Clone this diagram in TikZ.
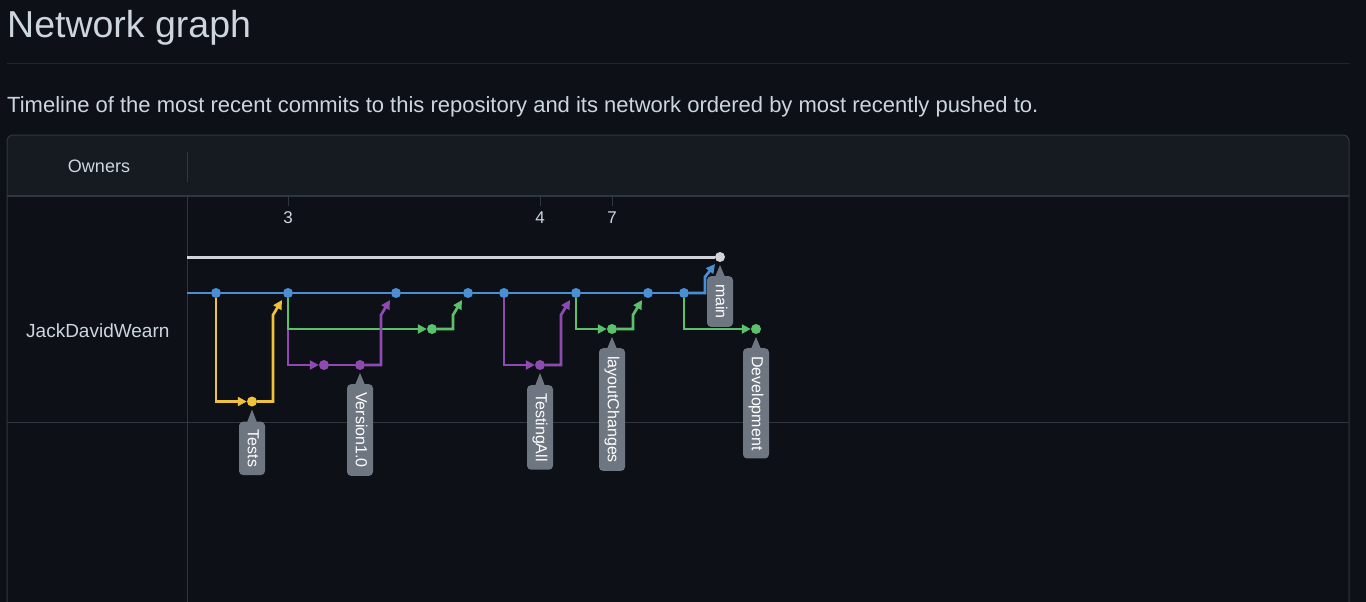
\documentclass[tikz,border=0pt]{standalone}
\usepackage{fontspec}
\setmainfont{Liberation Sans}
\usetikzlibrary{arrows.meta}
\definecolor{pagebg}{HTML}{0D1117}
\definecolor{headbg}{HTML}{161B22}
\definecolor{frame}{HTML}{30363D}
\definecolor{hrule}{HTML}{21262D}
\definecolor{fg}{HTML}{CDD5DD}
\definecolor{tagfill}{HTML}{6E7681}
\definecolor{mainblue}{HTML}{4A8FD4}
\definecolor{testyellow}{HTML}{F0C23A}
\definecolor{devgreen}{HTML}{5BC16A}
\definecolor{verpurple}{HTML}{8E4AB0}
\definecolor{headgrey}{HTML}{D0D3D8}

\begin{document}
\begin{tikzpicture}[x=1pt,y=-1pt]
        \tikzset{commit/.style={circle,fill=#1,inner sep=0pt,minimum size=10pt},
            branch/.style={draw=#1,line width=2.7pt,-{Triangle[length=9pt,width=9pt]}},
            lane/.style={draw=#1,line width=2.7pt},
            tag/.style={fill=tagfill,rounded corners=4pt,rotate=-90,anchor=west,text=white,
                font=\fontsize{16}{16}\selectfont,inner xsep=8pt,inner ysep=0pt,
                minimum height=26pt,text height=11.5pt,text depth=3pt},
            label/.style={text=fg,inner sep=0pt,font=\fontsize{#1}{#1}\selectfont}}
        \useasboundingbox (0,0) rectangle (1366,602);
        \fill[pagebg] (0,0) rectangle (1366,602);
        % heading
        \node[label=37.5,anchor=base west] (title) at (7,38) {Network graph};
        \draw[hrule,line width=1pt] (7,64) -- (1350,64);
        \node[label=22,anchor=base west] (intro) at (7,112)
            {Timeline of the most recent commits to this repository and its network ordered by most recently pushed to.};
        % table frame
        \fill[headbg,rounded corners=6pt] (7,135) rectangle (1349,220);
        \fill[pagebg] (7,196) rectangle (1349,220);
        \draw[frame,line width=1pt,rounded corners=6pt] (7,135) rectangle (1349,700);
        \draw[frame,line width=1.6pt] (7,196) -- (1349,196);
        \draw[frame,line width=1pt] (187,152) -- (187,182);
        \draw[frame,line width=1pt] (187,196) -- (187,700);
        \draw[frame,line width=1pt] (7,422) -- (1349,422);
        \node[label=18,anchor=base] (owners) at (99,172) {Owners};
        \node[label=19,anchor=base west] (owner) at (26,337) {JackDavidWearn};
        % dates
        \foreach \x/\d in {288/3,540/4,612/7} {
            \draw[frame,line width=1pt] (\x,197) -- (\x,206);
            \node[label=17,anchor=base] (date\d) at (\x,223) {\d};
        }
        % commits
        \coordinate (mstart) at (187,293);
        \coordinate (hstart) at (187,257);
        \foreach \n/\x in {b1/216,b2/288,b3/396,b4/468,b5/504,b6/576,b7/648,b8/684}
            \node[commit=mainblue] (\n) at (\x,293) {};
        \node[commit=headgrey] (head) at (720,257) {};
        \node[commit=testyellow] (t1) at (252,401.5) {};
        \node[commit=verpurple] (p1) at (324,365) {};
        \node[commit=verpurple] (p2) at (360,365) {};
        \node[commit=verpurple] (p3) at (540,365) {};
        \node[commit=devgreen] (g1) at (432,329) {};
        \node[commit=devgreen] (g2) at (612,329) {};
        \node[commit=devgreen] (g3) at (756,329) {};
        % lanes
        \draw[lane=headgrey,line width=3pt] (hstart) -- (head);
        \draw[lane=mainblue] (mstart) -- (b1) -- (b2) -- (b3) -- (b4) -- (b5) -- (b6) -- (b7) -- (b8);
        \draw[branch=testyellow] (b1) |- (t1);
        \draw[branch=verpurple] (b2) |- (p1);
        \draw[lane=verpurple] (p1) -- (p2);
        \draw[branch=devgreen] (b2) |- (g1);
        \draw[branch=verpurple] (b5) |- (p3);
        \draw[branch=devgreen] (b6) |- (g2);
        \draw[branch=devgreen] (b8) |- (g3);
        % merges
        \foreach \c/\m/\col in {t1/b2/testyellow,p2/b3/verpurple,g1/b4/devgreen,p3/b6/verpurple,g2/b7/devgreen}
            \draw[branch=\col] (\c) -| ([xshift=-15pt,yshift=-22pt]\m.center) -- ([xshift=-6pt,yshift=-7pt]\m.center);
        \draw[branch=mainblue] (b8) -| ([xshift=-15pt,yshift=-20pt]head.center) -- ([xshift=-5pt,yshift=-7pt]head.center);
        % branch tags
        \node[tag] (tagTests) at ([yshift=-20pt]t1.center) {Tests};
        \node[tag] (tagVersion) at ([yshift=-19pt]p2.center) {Version1.0};
        \node[tag] (tagTesting) at ([yshift=-20pt]p3.center) {TestingAll};
        \node[tag] (tagLayout) at ([yshift=-19pt]g2.center) {layoutChanges};
        \node[tag] (tagDev) at ([yshift=-19pt]g3.center) {Development};
        \node[tag] (tagMain) at ([yshift=-19pt]head.center) {main};
        \foreach \c/\t in {t1/tagTests,p2/tagVersion,p3/tagTesting,g2/tagLayout,g3/tagDev,head/tagMain}
            \fill[tagfill] ([yshift=-8pt]\c.center) -- ([xshift=-5pt,yshift=-1pt]\t.west) -- ([xshift=5pt,yshift=-1pt]\t.west) -- cycle;
\end{tikzpicture}
\end{document}
